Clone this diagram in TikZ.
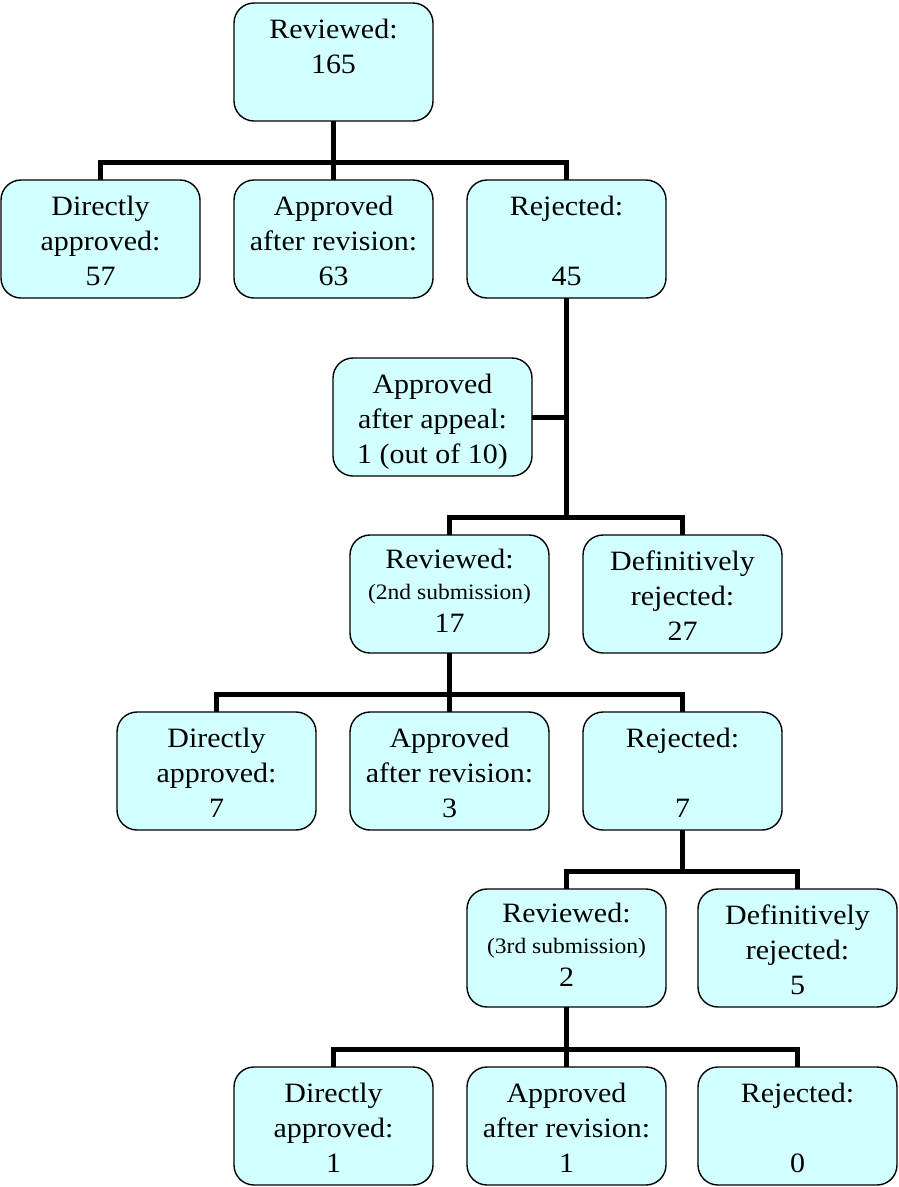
\documentclass[tikz,border=0pt]{standalone}
\usepackage{fontspec}
\setmainfont[FakeStretch=1.07]{Liberation Serif}
\definecolor{boxfill}{HTML}{D2FFFF}
\newcommand{\bx}[2][7pt]{\parbox[t][118pt][t]{199pt}{\centering\vspace*{#1}\rule{0pt}{28pt}#2}}
\newcommand{\smalltxt}[1]{{\fontsize{22}{31}\selectfont #1}}
\tikzset{
  box/.style={draw=black, line width=1.4pt, fill=boxfill, rounded corners=20pt,
    inner sep=0pt, outer sep=0pt, anchor=north west, font=\fontsize{28}{35}\selectfont},
  conn/.style={draw=black, line width=5pt, line join=miter}
}
\begin{document}
\begin{tikzpicture}[x=1pt,y=-1pt]
\useasboundingbox (0,0) rectangle (898,1187);
% row 0
\node[box] (t) at (234,3) {\bx{Reviewed:\\165}};
% row 1
\node[box] (a1) at (1,180) {\bx{Directly\\approved:\\57}};
\node[box] (b1) at (234,180) {\bx{Approved\\after revision:\\63}};
\node[box] (r1) at (467,180) {\bx{Rejected:\\\mbox{}\\45}};
% appeal
\node[box] (ap) at (333,358) {\bx{Approved\\after appeal:\\1 (out of 10)}};
% row 3
\node[box] (rv2) at (350,535) {\bx[5pt]{Reviewed:\\[-4pt]\smalltxt{(2nd submission)}\\[-2pt]17}};
\node[box] (dr2) at (583,535) {\bx{Definitively\\rejected:\\27}};
% row 4
\node[box] (a4) at (117,712) {\bx{Directly\\approved:\\7}};
\node[box] (b4) at (350,712) {\bx{Approved\\after revision:\\3}};
\node[box] (r4) at (583,712) {\bx{Rejected:\\\mbox{}\\7}};
% row 5
\node[box] (rv3) at (467,889) {\bx[5pt]{Reviewed:\\[-4pt]\smalltxt{(3rd submission)}\\[-2pt]2}};
\node[box] (dr3) at (698,889) {\bx{Definitively\\rejected:\\5}};
% row 6
\node[box] (a6) at (234,1067) {\bx{Directly\\approved:\\1}};
\node[box] (b6) at (467,1067) {\bx{Approved\\after revision:\\1}};
\node[box] (r6) at (698,1067) {\bx{Rejected:\\\mbox{}\\0}};
% connectors
\draw[conn] (t.south) -- (b1.north);
\draw[conn] (a1.north) -- ++(0,-18) -| (r1.north);
\draw[conn] (rv2.north) -- ++(0,-18) coordinate (j2) -| (dr2.north);
\draw[conn] (r1.south) -- (r1.south |- j2);
\draw[conn] (ap.east) -- (ap.east -| r1.south);
\draw[conn] (a4.north) -- ++(0,-18) -| (r4.north);
\draw[conn] (rv2.south) -- (b4.north);
\draw[conn] (rv3.north) -- ++(0,-18) coordinate (j5) -| (dr3.north);
\draw[conn] (r4.south) -- (r4.south |- j5);
\draw[conn] (a6.north) -- ++(0,-18) -| (r6.north);
\draw[conn] (rv3.south) -- (b6.north);
\end{tikzpicture}
\end{document}
